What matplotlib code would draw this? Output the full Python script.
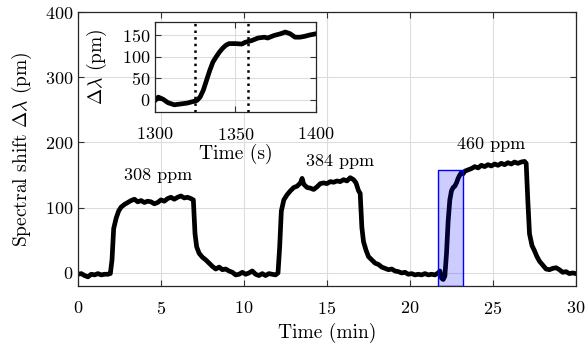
import numpy as np
import matplotlib
matplotlib.use("Agg")
import matplotlib.pyplot as plt
from matplotlib.patches import Rectangle

# DATA
##############################################################################
# main trace: time (min) and spectral shift (pm)
t_min = [0.0, 0.2, 0.4, 0.6, 0.8, 1.0, 1.2, 1.4, 1.6, 1.8, 1.95,
         2.05, 2.15, 2.3, 2.45, 2.6, 2.8, 3.0, 3.2, 3.4, 3.6, 3.8, 4.0, 4.2, 4.4, 4.6,
         4.8, 5.0, 5.2, 5.4, 5.6, 5.8, 6.0, 6.2, 6.4, 6.6, 6.8, 6.95,
         7.05, 7.15, 7.3, 7.5, 7.7, 7.9, 8.1, 8.3, 8.5, 8.7, 8.9, 9.1, 9.3, 9.5, 9.7,
         9.9, 10.1, 10.3, 10.5, 10.7, 10.9, 11.1, 11.3, 11.5, 11.7, 11.9, 12.05,
         12.15, 12.25, 12.4, 12.6, 12.8, 13.0, 13.2, 13.4, 13.5, 13.6, 13.8, 14.0, 14.2,
         14.4, 14.6, 14.8, 15.0, 15.2, 15.4, 15.6, 15.8, 16.0, 16.2, 16.4, 16.6, 16.75,
         16.9, 17.0,
         17.1, 17.2, 17.35, 17.5, 17.7, 17.9, 18.1, 18.3, 18.5, 18.7, 18.9, 19.1, 19.3,
         19.5, 19.7, 19.9, 20.1, 20.3, 20.5, 20.7, 20.9, 21.1, 21.3, 21.5, 21.7, 21.8,
         21.9, 22.0, 22.1,
         22.2, 22.3, 22.4, 22.5, 22.6, 22.7, 22.8, 22.9, 23.0, 23.1, 23.2, 23.3, 23.5,
         23.7, 23.9, 24.1, 24.3, 24.5, 24.7, 24.9, 25.1, 25.3, 25.5, 25.7, 25.9, 26.1,
         26.3, 26.5, 26.7, 26.9, 27.0,
         27.1, 27.2, 27.35, 27.5, 27.65, 27.8, 28.0, 28.2, 28.4, 28.6, 28.8, 29.0, 29.2,
         29.4, 29.6, 29.8, 30.0]
shift_pm = [-2, -1, -4, -6, -2, -3, -1, -3, -2, -2, -1,
            20, 68, 84, 95, 101, 105, 108, 111, 113, 109, 111, 108, 110, 109, 106,
            108, 112, 110, 114, 116, 113, 116, 118, 115, 116, 114, 112,
            60, 40, 30, 24, 20, 15, 10, 6, 9, 5, 6, 3, 1, -3, -2,
            1, -2, 0, 3, -2, -4, -1, -4, -1, -2, -3, 0,
            40, 95, 112, 120, 126, 131, 133, 138, 145, 136, 131, 130, 128,
            132, 137, 138, 137, 140, 139, 141, 140, 143, 141, 146, 143, 138,
            126, 122,
            70, 48, 35, 25, 20, 15, 13, 9, 7, 5, 6, 3, 2,
            0, 1, -2, -1, -3, -2, -3, -1, -3, -2, -3, 0, 3,
            -8, -10, -5,
            30, 80, 112, 126, 131, 133, 138, 145, 150, 154, 152, 156, 158,
            160, 163, 161, 165, 163, 166, 164, 167, 165, 168, 166, 169, 167,
            170, 168, 170, 171, 168,
            110, 60, 42, 34, 25, 18, 12, 6, 5, 7, 8, 5, 1,
            2, -1, 0, -1]

# inset trace: time (s) and spectral shift (pm)
t_sec = [1300, 1302, 1305, 1308, 1312, 1316, 1320, 1324, 1326, 1328,
         1330, 1332, 1334, 1336, 1338, 1340, 1342, 1344, 1346, 1350,
         1354, 1356, 1360, 1364, 1368, 1370, 1374, 1378, 1381, 1384,
         1387, 1390, 1393, 1396, 1400]
shift_inset = [-2, 6, 1, -7, -12, -10, -8, -4, -2, 6,
               22, 45, 68, 88, 100, 111, 120, 127, 131, 131,
               130, 134, 138, 144, 146, 144, 150, 154, 158, 154,
               146, 146, 148, 151, 154]
inset_marks = [1325, 1358]

conc_labels = ["308 ppm", "384 ppm", "460 ppm"]
label_t = [4.8, 15.8, 24.9]
label_v = [149, 171, 197]

# highlighted window (min, pm)
win_t = [21.67, 23.17]
win_v = [-20, 158]

# STYLE
##############################################################################
plt.rcParams['font.family'] = 'serif'
plt.rcParams['font.serif'] = ['cmr10']
plt.rcParams['mathtext.fontset'] = 'cm'
plt.rcParams['axes.formatter.use_mathtext'] = True
plt.rcParams['axes.unicode_minus'] = False


def style_axes(ax, size):
    ax.tick_params(direction='in', top=True, right=True, labelsize=size,
                   length=4, width=0.8, color='#333333')
    ax.grid(True, color='#dddddd', linewidth=0.8)
    ax.set_axisbelow(True)
    for s in ax.spines.values():
        s.set_linewidth(0.9)
        s.set_color('#262626')


# FIGURE
##############################################################################
fig = plt.figure(figsize=(5.85, 3.47), dpi=100)
ax = fig.add_axes([0.1333, 0.1758, 0.8513, 0.7896])
ax.plot(t_min, shift_pm, color='black', lw=3.4, solid_joinstyle='round')
ax.add_patch(Rectangle((win_t[0], win_v[0]), win_t[1] - win_t[0], win_v[1] - win_v[0],
                       facecolor=(0, 0, 1, 0.2), edgecolor='blue', lw=1.0, zorder=5))
for lab, x, y in zip(conc_labels, label_t, label_v):
    ax.text(x, y, lab, ha='center', va='center', fontsize=13)

ax.set_xlim(0, 30)
ax.set_ylim(-20, 400)
ax.set_xticks([0, 5, 10, 15, 20, 25, 30])
ax.set_yticks([0, 100, 200, 300, 400])
style_axes(ax, 13)
ax.tick_params(axis='x', pad=10)
ax.set_xlabel('Time (min)', fontsize=14, labelpad=4.5)
ax.set_ylabel(r'Spectral shift $\Delta\lambda$ (pm)', fontsize=14, labelpad=8)

# inset
axi = fig.add_axes([0.265, 0.677, 0.275, 0.259])
axi.plot(t_sec, shift_inset, color='black', lw=3.4, solid_joinstyle='round')
for m in inset_marks:
    axi.axvline(m, color='black', ls=':', lw=1.8)
axi.set_xlim(1300, 1400)
axi.set_ylim(-29, 181)
axi.set_xticks([1300, 1350, 1400])
axi.set_yticks([0, 50, 100, 150])
style_axes(axi, 13)
axi.tick_params(axis='x', pad=10)
axi.set_xlabel('Time (s)', fontsize=14, labelpad=0.5)
axi.set_ylabel(r'$\Delta\lambda$ (pm)', fontsize=14, labelpad=9)

fig.savefig('out.png', dpi=100)
